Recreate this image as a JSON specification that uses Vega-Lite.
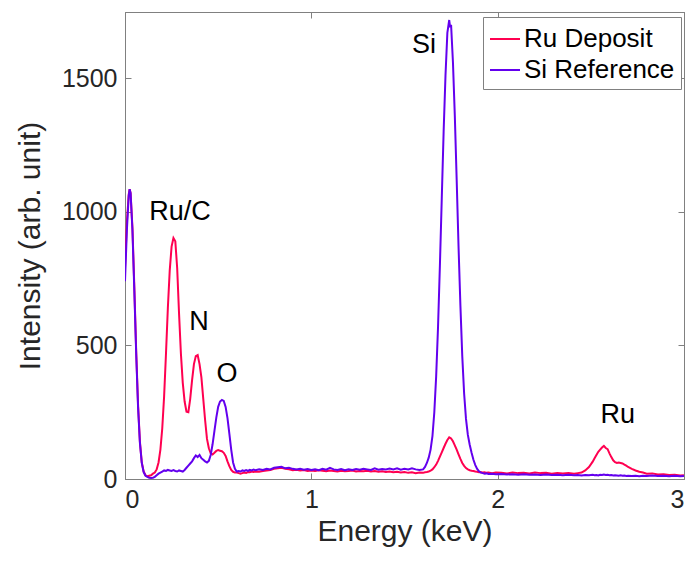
{
  "$schema": "https://vega.github.io/schema/vega-lite/v6.json",
  "autosize": {"type": "none"},
  "padding": {"left": 125, "top": 12, "right": 10, "bottom": 91},
  "width": 559,
  "height": 467,
  "background": "white",
  "config": {
    "font": "Liberation Sans",
    "view": {"stroke": "#808080", "strokeWidth": 1},
    "axis": {
      "grid": false,
      "domainColor": "#808080",
      "tickColor": "#808080",
      "labelColor": "#262626",
      "titleColor": "#262626",
      "labelFont": "Liberation Sans",
      "titleFont": "Liberation Sans",
      "titleFontWeight": "normal",
      "labelFontSize": 25,
      "titleFontSize": 30
    }
  },
  "datasets": {
    "spectra": [
      {"E": 0.00, "Ru Deposit": 790, "Si Reference": 740},
      {"E": 0.01, "Ru Deposit": 960, "Si Reference": 930},
      {"E": 0.02, "Ru Deposit": 1065, "Si Reference": 1060},
      {"E": 0.025, "Ru Deposit": 1085, "Si Reference": 1085},
      {"E": 0.03, "Ru Deposit": 1070, "Si Reference": 1070},
      {"E": 0.04, "Ru Deposit": 940, "Si Reference": 930},
      {"E": 0.05, "Ru Deposit": 720, "Si Reference": 705},
      {"E": 0.06, "Ru Deposit": 480, "Si Reference": 470},
      {"E": 0.07, "Ru Deposit": 280, "Si Reference": 270},
      {"E": 0.08, "Ru Deposit": 140, "Si Reference": 135},
      {"E": 0.09, "Ru Deposit": 62, "Si Reference": 60},
      {"E": 0.10, "Ru Deposit": 28, "Si Reference": 26},
      {"E": 0.11, "Ru Deposit": 14, "Si Reference": 12},
      {"E": 0.12, "Ru Deposit": 10, "Si Reference": 8},
      {"E": 0.13, "Ru Deposit": 12, "Si Reference": 5},
      {"E": 0.14, "Ru Deposit": 14, "Si Reference": 4},
      {"E": 0.15, "Ru Deposit": 20, "Si Reference": 5},
      {"E": 0.16, "Ru Deposit": 24, "Si Reference": 8},
      {"E": 0.17, "Ru Deposit": 36, "Si Reference": 14},
      {"E": 0.18, "Ru Deposit": 62, "Si Reference": 20},
      {"E": 0.19, "Ru Deposit": 110, "Si Reference": 24},
      {"E": 0.20, "Ru Deposit": 190, "Si Reference": 28},
      {"E": 0.21, "Ru Deposit": 310, "Si Reference": 32},
      {"E": 0.22, "Ru Deposit": 470, "Si Reference": 30},
      {"E": 0.23, "Ru Deposit": 640, "Si Reference": 34},
      {"E": 0.24, "Ru Deposit": 780, "Si Reference": 32},
      {"E": 0.25, "Ru Deposit": 870, "Si Reference": 30},
      {"E": 0.26, "Ru Deposit": 902, "Si Reference": 33},
      {"E": 0.27, "Ru Deposit": 890, "Si Reference": 30},
      {"E": 0.28, "Ru Deposit": 790, "Si Reference": 28},
      {"E": 0.29, "Ru Deposit": 620, "Si Reference": 32},
      {"E": 0.30, "Ru Deposit": 470, "Si Reference": 30},
      {"E": 0.31, "Ru Deposit": 360, "Si Reference": 28},
      {"E": 0.32, "Ru Deposit": 290, "Si Reference": 34},
      {"E": 0.33, "Ru Deposit": 252, "Si Reference": 42},
      {"E": 0.34, "Ru Deposit": 250, "Si Reference": 50},
      {"E": 0.35, "Ru Deposit": 300, "Si Reference": 58},
      {"E": 0.36, "Ru Deposit": 370, "Si Reference": 66},
      {"E": 0.37, "Ru Deposit": 430, "Si Reference": 78},
      {"E": 0.38, "Ru Deposit": 460, "Si Reference": 88},
      {"E": 0.39, "Ru Deposit": 464, "Si Reference": 82},
      {"E": 0.40, "Ru Deposit": 430, "Si Reference": 90},
      {"E": 0.41, "Ru Deposit": 380, "Si Reference": 78},
      {"E": 0.42, "Ru Deposit": 300, "Si Reference": 72},
      {"E": 0.43, "Ru Deposit": 220, "Si Reference": 66},
      {"E": 0.44, "Ru Deposit": 150, "Si Reference": 62},
      {"E": 0.45, "Ru Deposit": 115, "Si Reference": 68},
      {"E": 0.46, "Ru Deposit": 96, "Si Reference": 90},
      {"E": 0.47, "Ru Deposit": 92, "Si Reference": 130},
      {"E": 0.48, "Ru Deposit": 98, "Si Reference": 180},
      {"E": 0.49, "Ru Deposit": 105, "Si Reference": 230},
      {"E": 0.50, "Ru Deposit": 108, "Si Reference": 270},
      {"E": 0.51, "Ru Deposit": 106, "Si Reference": 290},
      {"E": 0.52, "Ru Deposit": 104, "Si Reference": 296},
      {"E": 0.53, "Ru Deposit": 98, "Si Reference": 292},
      {"E": 0.54, "Ru Deposit": 86, "Si Reference": 270},
      {"E": 0.55, "Ru Deposit": 66, "Si Reference": 228},
      {"E": 0.56, "Ru Deposit": 48, "Si Reference": 170},
      {"E": 0.57, "Ru Deposit": 34, "Si Reference": 110},
      {"E": 0.58, "Ru Deposit": 27, "Si Reference": 62},
      {"E": 0.59, "Ru Deposit": 24, "Si Reference": 38},
      {"E": 0.60, "Ru Deposit": 24, "Si Reference": 28},
      {"E": 0.61, "Ru Deposit": 22, "Si Reference": 30},
      {"E": 0.62, "Ru Deposit": 20, "Si Reference": 28},
      {"E": 0.63, "Ru Deposit": 22, "Si Reference": 32},
      {"E": 0.64, "Ru Deposit": 24, "Si Reference": 30},
      {"E": 0.65, "Ru Deposit": 23, "Si Reference": 33},
      {"E": 0.66, "Ru Deposit": 26, "Si Reference": 30},
      {"E": 0.67, "Ru Deposit": 25, "Si Reference": 34},
      {"E": 0.68, "Ru Deposit": 28, "Si Reference": 32},
      {"E": 0.69, "Ru Deposit": 26, "Si Reference": 35},
      {"E": 0.70, "Ru Deposit": 28, "Si Reference": 33},
      {"E": 0.72, "Ru Deposit": 27, "Si Reference": 36},
      {"E": 0.74, "Ru Deposit": 30, "Si Reference": 34},
      {"E": 0.76, "Ru Deposit": 32, "Si Reference": 38},
      {"E": 0.78, "Ru Deposit": 34, "Si Reference": 36},
      {"E": 0.80, "Ru Deposit": 38, "Si Reference": 42},
      {"E": 0.82, "Ru Deposit": 40, "Si Reference": 44},
      {"E": 0.84, "Ru Deposit": 42, "Si Reference": 46},
      {"E": 0.86, "Ru Deposit": 38, "Si Reference": 40},
      {"E": 0.88, "Ru Deposit": 36, "Si Reference": 42},
      {"E": 0.90, "Ru Deposit": 33, "Si Reference": 38},
      {"E": 0.92, "Ru Deposit": 35, "Si Reference": 36},
      {"E": 0.94, "Ru Deposit": 32, "Si Reference": 38},
      {"E": 0.96, "Ru Deposit": 34, "Si Reference": 35},
      {"E": 0.98, "Ru Deposit": 30, "Si Reference": 37},
      {"E": 1.00, "Ru Deposit": 32, "Si Reference": 34},
      {"E": 1.02, "Ru Deposit": 30, "Si Reference": 36},
      {"E": 1.04, "Ru Deposit": 33, "Si Reference": 33},
      {"E": 1.06, "Ru Deposit": 31, "Si Reference": 38},
      {"E": 1.08, "Ru Deposit": 29, "Si Reference": 35},
      {"E": 1.10, "Ru Deposit": 32, "Si Reference": 42},
      {"E": 1.12, "Ru Deposit": 30, "Si Reference": 36},
      {"E": 1.14, "Ru Deposit": 28, "Si Reference": 34},
      {"E": 1.16, "Ru Deposit": 31, "Si Reference": 37},
      {"E": 1.18, "Ru Deposit": 29, "Si Reference": 33},
      {"E": 1.20, "Ru Deposit": 30, "Si Reference": 36},
      {"E": 1.22, "Ru Deposit": 32, "Si Reference": 34},
      {"E": 1.24, "Ru Deposit": 28, "Si Reference": 37},
      {"E": 1.26, "Ru Deposit": 30, "Si Reference": 35},
      {"E": 1.28, "Ru Deposit": 29, "Si Reference": 38},
      {"E": 1.30, "Ru Deposit": 31, "Si Reference": 36},
      {"E": 1.32, "Ru Deposit": 28, "Si Reference": 34},
      {"E": 1.34, "Ru Deposit": 30, "Si Reference": 40},
      {"E": 1.36, "Ru Deposit": 27, "Si Reference": 35},
      {"E": 1.38, "Ru Deposit": 29, "Si Reference": 37},
      {"E": 1.40, "Ru Deposit": 26, "Si Reference": 36},
      {"E": 1.42, "Ru Deposit": 28, "Si Reference": 39},
      {"E": 1.44, "Ru Deposit": 25, "Si Reference": 36},
      {"E": 1.46, "Ru Deposit": 27, "Si Reference": 40},
      {"E": 1.48, "Ru Deposit": 24, "Si Reference": 35},
      {"E": 1.50, "Ru Deposit": 26, "Si Reference": 38},
      {"E": 1.52, "Ru Deposit": 23, "Si Reference": 36},
      {"E": 1.54, "Ru Deposit": 25, "Si Reference": 40},
      {"E": 1.56, "Ru Deposit": 22, "Si Reference": 36},
      {"E": 1.58, "Ru Deposit": 24, "Si Reference": 34},
      {"E": 1.60, "Ru Deposit": 23, "Si Reference": 36},
      {"E": 1.61, "Ru Deposit": 25, "Si Reference": 45},
      {"E": 1.62, "Ru Deposit": 26, "Si Reference": 60},
      {"E": 1.63, "Ru Deposit": 28, "Si Reference": 80},
      {"E": 1.64, "Ru Deposit": 31, "Si Reference": 110},
      {"E": 1.65, "Ru Deposit": 36, "Si Reference": 160},
      {"E": 1.66, "Ru Deposit": 44, "Si Reference": 250},
      {"E": 1.67, "Ru Deposit": 54, "Si Reference": 385},
      {"E": 1.68, "Ru Deposit": 68, "Si Reference": 570},
      {"E": 1.69, "Ru Deposit": 84, "Si Reference": 800},
      {"E": 1.70, "Ru Deposit": 100, "Si Reference": 1050},
      {"E": 1.71, "Ru Deposit": 116, "Si Reference": 1300},
      {"E": 1.72, "Ru Deposit": 132, "Si Reference": 1510},
      {"E": 1.73, "Ru Deposit": 146, "Si Reference": 1670},
      {"E": 1.74, "Ru Deposit": 156, "Si Reference": 1718},
      {"E": 1.745, "Ru Deposit": 154, "Si Reference": 1690},
      {"E": 1.75, "Ru Deposit": 152, "Si Reference": 1700},
      {"E": 1.76, "Ru Deposit": 141, "Si Reference": 1560},
      {"E": 1.77, "Ru Deposit": 126, "Si Reference": 1360},
      {"E": 1.78, "Ru Deposit": 110, "Si Reference": 1120},
      {"E": 1.79, "Ru Deposit": 92, "Si Reference": 870},
      {"E": 1.80, "Ru Deposit": 75, "Si Reference": 650},
      {"E": 1.81, "Ru Deposit": 60, "Si Reference": 460},
      {"E": 1.82, "Ru Deposit": 49, "Si Reference": 320},
      {"E": 1.83, "Ru Deposit": 41, "Si Reference": 225},
      {"E": 1.84, "Ru Deposit": 36, "Si Reference": 165},
      {"E": 1.85, "Ru Deposit": 33, "Si Reference": 128},
      {"E": 1.86, "Ru Deposit": 31, "Si Reference": 98},
      {"E": 1.87, "Ru Deposit": 30, "Si Reference": 72},
      {"E": 1.88, "Ru Deposit": 28, "Si Reference": 52},
      {"E": 1.89, "Ru Deposit": 27, "Si Reference": 38},
      {"E": 1.90, "Ru Deposit": 25, "Si Reference": 29},
      {"E": 1.91, "Ru Deposit": 26, "Si Reference": 24},
      {"E": 1.92, "Ru Deposit": 24, "Si Reference": 22},
      {"E": 1.93, "Ru Deposit": 25, "Si Reference": 20},
      {"E": 1.94, "Ru Deposit": 23, "Si Reference": 21},
      {"E": 1.95, "Ru Deposit": 24, "Si Reference": 19},
      {"E": 1.97, "Ru Deposit": 22, "Si Reference": 20},
      {"E": 1.99, "Ru Deposit": 24, "Si Reference": 18},
      {"E": 2.02, "Ru Deposit": 23, "Si Reference": 19},
      {"E": 2.05, "Ru Deposit": 21, "Si Reference": 17},
      {"E": 2.08, "Ru Deposit": 24, "Si Reference": 18},
      {"E": 2.11, "Ru Deposit": 22, "Si Reference": 16},
      {"E": 2.14, "Ru Deposit": 23, "Si Reference": 18},
      {"E": 2.17, "Ru Deposit": 21, "Si Reference": 16},
      {"E": 2.20, "Ru Deposit": 24, "Si Reference": 17},
      {"E": 2.23, "Ru Deposit": 22, "Si Reference": 15},
      {"E": 2.26, "Ru Deposit": 23, "Si Reference": 17},
      {"E": 2.29, "Ru Deposit": 20, "Si Reference": 15},
      {"E": 2.32, "Ru Deposit": 22, "Si Reference": 16},
      {"E": 2.35, "Ru Deposit": 21, "Si Reference": 14},
      {"E": 2.38, "Ru Deposit": 22, "Si Reference": 16},
      {"E": 2.41, "Ru Deposit": 20, "Si Reference": 14},
      {"E": 2.43, "Ru Deposit": 22, "Si Reference": 15},
      {"E": 2.45, "Ru Deposit": 24, "Si Reference": 13},
      {"E": 2.47, "Ru Deposit": 32, "Si Reference": 15},
      {"E": 2.49, "Ru Deposit": 45, "Si Reference": 14},
      {"E": 2.51, "Ru Deposit": 65, "Si Reference": 16},
      {"E": 2.52, "Ru Deposit": 78, "Si Reference": 14},
      {"E": 2.53, "Ru Deposit": 90, "Si Reference": 15},
      {"E": 2.54, "Ru Deposit": 102, "Si Reference": 13},
      {"E": 2.55, "Ru Deposit": 110, "Si Reference": 16},
      {"E": 2.56, "Ru Deposit": 118, "Si Reference": 15},
      {"E": 2.57, "Ru Deposit": 124, "Si Reference": 17},
      {"E": 2.58, "Ru Deposit": 116, "Si Reference": 15},
      {"E": 2.59, "Ru Deposit": 112, "Si Reference": 16},
      {"E": 2.60, "Ru Deposit": 96, "Si Reference": 14},
      {"E": 2.61, "Ru Deposit": 82, "Si Reference": 15},
      {"E": 2.62, "Ru Deposit": 70, "Si Reference": 13},
      {"E": 2.63, "Ru Deposit": 63, "Si Reference": 14},
      {"E": 2.64, "Ru Deposit": 60, "Si Reference": 13},
      {"E": 2.65, "Ru Deposit": 62, "Si Reference": 12},
      {"E": 2.66, "Ru Deposit": 60, "Si Reference": 14},
      {"E": 2.67, "Ru Deposit": 58, "Si Reference": 12},
      {"E": 2.68, "Ru Deposit": 54, "Si Reference": 13},
      {"E": 2.69, "Ru Deposit": 50, "Si Reference": 11},
      {"E": 2.70, "Ru Deposit": 45, "Si Reference": 12},
      {"E": 2.72, "Ru Deposit": 38, "Si Reference": 11},
      {"E": 2.74, "Ru Deposit": 32, "Si Reference": 12},
      {"E": 2.76, "Ru Deposit": 27, "Si Reference": 10},
      {"E": 2.78, "Ru Deposit": 24, "Si Reference": 12},
      {"E": 2.80, "Ru Deposit": 20, "Si Reference": 11},
      {"E": 2.83, "Ru Deposit": 21, "Si Reference": 13},
      {"E": 2.86, "Ru Deposit": 17, "Si Reference": 11},
      {"E": 2.89, "Ru Deposit": 18, "Si Reference": 12},
      {"E": 2.92, "Ru Deposit": 15, "Si Reference": 10},
      {"E": 2.95, "Ru Deposit": 16, "Si Reference": 12},
      {"E": 2.98, "Ru Deposit": 13, "Si Reference": 10},
      {"E": 3.00, "Ru Deposit": 14, "Si Reference": 11}
    ],
    "labels": [
      {"E": 1.604, "I": 1625, "label": "Si"},
      {"E": 0.295, "I": 1000, "label": "Ru/C"},
      {"E": 0.397, "I": 588, "label": "N"},
      {"E": 0.547, "I": 393, "label": "O"},
      {"E": 2.645, "I": 240, "label": "Ru"}
    ]
  },
  "layer": [
    {
      "data": {"name": "spectra"},
      "transform": [{"fold": ["Ru Deposit", "Si Reference"], "as": ["series", "intensity"]}],
      "mark": {"type": "line", "strokeWidth": 2, "interpolate": "linear", "clip": true},
      "encoding": {
        "x": {
          "field": "E", "type": "quantitative",
          "scale": {"domain": [0, 3], "nice": false, "zero": false},
          "axis": {"orient": "bottom", "values": [0, 1, 2, 3], "title": "Energy (keV)", "tickSize": -6, "labelPadding": 14, "titlePadding": 4, "format": "d"}
        },
        "y": {
          "field": "intensity", "type": "quantitative",
          "scale": {"domain": [0, 1748], "nice": false},
          "axis": {"orient": "left", "values": [0, 500, 1000, 1500], "title": "Intensity (arb. unit)", "tickSize": -6, "labelPadding": 14, "titlePadding": 16, "format": "d"}
        },
        "color": {
          "field": "series", "type": "nominal",
          "scale": {"domain": ["Ru Deposit", "Si Reference"], "range": ["#FF0050", "#6300EE"]},
          "legend": {
            "title": null,
            "orient": "none",
            "legendX": 358,
            "legendY": 5,
            "symbolType": "stroke",
            "symbolSize": 900,
            "symbolStrokeWidth": 2,
            "labelFontSize": 26,
            "labelColor": "#000000",
            "labelFont": "Liberation Sans",
            "labelOffset": 3,
            "rowPadding": 2,
            "padding": 6,
            "strokeColor": "#808080",
            "fillColor": "white"
          }
        }
      }
    },
    {
      "data": {"name": "spectra"},
      "transform": [{"fold": ["Ru Deposit", "Si Reference"], "as": ["series", "intensity"]}],
      "mark": {"type": "line", "strokeOpacity": 0},
      "encoding": {
        "x": {
          "field": "E", "type": "quantitative",
          "axis": {"orient": "top", "values": [0, 1, 2, 3], "labels": false, "title": null, "tickSize": -6}
        },
        "y": {
          "field": "intensity", "type": "quantitative",
          "axis": {"orient": "right", "values": [0, 500, 1000, 1500], "labels": false, "title": null, "tickSize": -6}
        }
      }
    },
    {
      "data": {"name": "labels"},
      "mark": {"type": "text", "fontSize": 27, "font": "Liberation Sans", "color": "#000000", "align": "center", "baseline": "middle"},
      "encoding": {
        "x": {"field": "E", "type": "quantitative", "axis": null},
        "y": {"field": "I", "type": "quantitative", "axis": null},
        "text": {"field": "label"}
      }
    }
  ],
  "resolve": {"axis": {"x": "independent", "y": "independent"}}
}
